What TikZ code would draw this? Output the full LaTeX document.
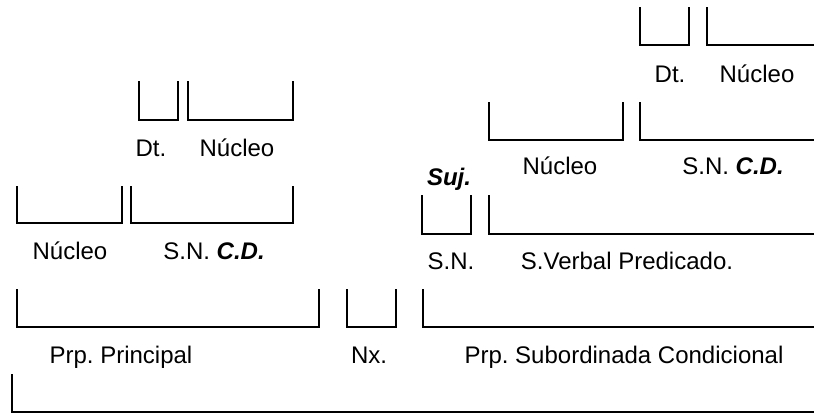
\documentclass[tikz,border=0pt]{standalone}
\usepackage{fontspec}
\setmainfont{Liberation Sans}
\begin{document}
\frenchspacing
\begin{tikzpicture}[x=1bp,y=-1bp,
  brk/.style={line width=1.4bp,line join=miter},
  lbl/.style={anchor=base,inner sep=0pt,font=\fontsize{24bp}{29bp}\selectfont\frenchspacing}]
\useasboundingbox (0,0) rectangle (814,414);
% top right
\draw[brk] (640,7) -- (640,45) -- (689,45) -- (689,7);
\draw[brk] (707,7) -- (707,45) -- (820,45);
\node[lbl] (dt2) at (670,82) {Dt.};
\node[lbl] (nu4) at (757,82) {Núcleo};
% second right
\draw[brk] (489,102) -- (489,140) -- (623,140) -- (623,102);
\draw[brk] (640,102) -- (640,140) -- (820,140);
\node[lbl] (nu3) at (560,174) {Núcleo};
\node[lbl] (sn2) at (733,174) {S.N. \textbf{\textit{C.D.}}};
% suj / predicado
\node[lbl] (suj) at (449,185) {\textbf{\textit{Suj.}}};
\draw[brk] (422,195) -- (422,234) -- (471,234) -- (471,195);
\draw[brk] (489,195) -- (489,234) -- (820,234);
\node[lbl] (sn3) at (451,269) {S.N.};
\node[lbl] (sv) at (627,269) {S.Verbal Predicado.};
% left top
\draw[brk] (139,81) -- (139,120) -- (178,120) -- (178,81);
\draw[brk] (188,81) -- (188,120) -- (293,120) -- (293,81);
\node[lbl] (dt1) at (151,156) {Dt.};
\node[lbl] (nu1) at (237,156) {Núcleo};
% left middle
\draw[brk] (17,186) -- (17,223) -- (122,223) -- (122,186);
\draw[brk] (131,186) -- (131,223) -- (293,223) -- (293,186);
\node[lbl] (nu2) at (70,259) {Núcleo};
\node[lbl] (sn1) at (214,259) {S.N. \textbf{\textit{C.D.}}};
% bottom level
\draw[brk] (17,289) -- (17,327) -- (319,327) -- (319,289);
\draw[brk] (347,289) -- (347,327) -- (396,327) -- (396,289);
\draw[brk] (423,289) -- (423,327) -- (820,327);
\node[lbl] (pp) at (121,363) {Prp. Principal};
\node[lbl] (nx) at (369,363) {Nx.};
\node[lbl] (ps) at (624,363) {Prp. Subordinada Condicional};
% whole sentence
\draw[brk] (12,374) -- (12,412) -- (820,412);
\end{tikzpicture}
\end{document}
